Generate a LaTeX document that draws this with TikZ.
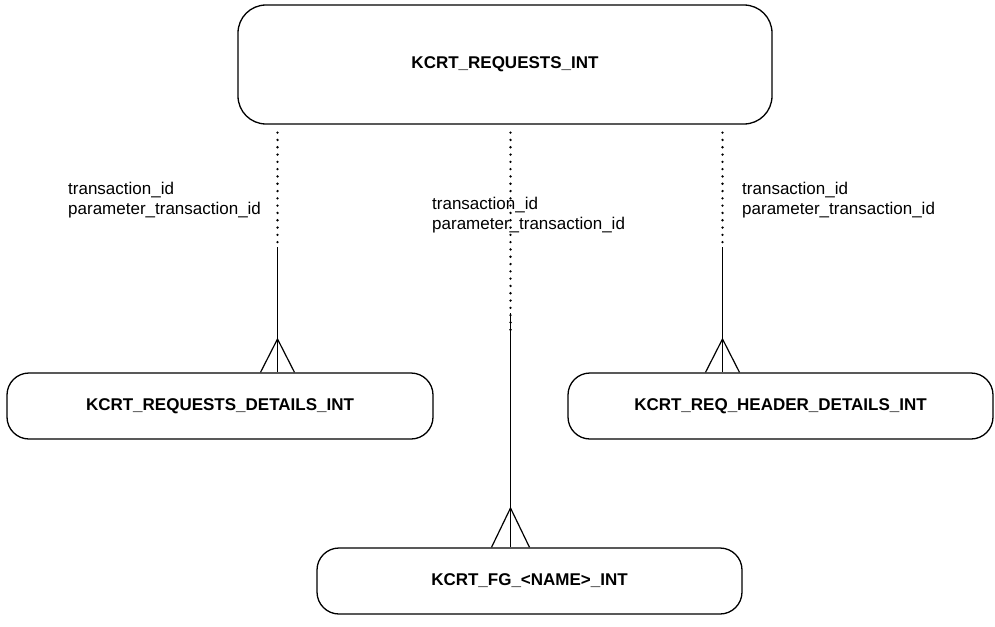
\documentclass[tikz,border=0pt]{standalone}
\usepackage{fontspec}
\setmainfont{Liberation Sans}
\usetikzlibrary{calc}
\tikzset{
  entity/.style={draw=black, line width=1.3pt, rounded corners=22pt, inner sep=0pt,
    font=\fontsize{17}{20}\selectfont\bfseries},
  lbl/.style={anchor=base west, inner sep=0pt, font=\fontsize{17}{20}\selectfont},
  dotline/.style={line width=2.6pt, line cap=round, dash pattern=on 0pt off 7.3pt},
  solidline/.style={line width=1.2pt},
}
\begin{document}
\begin{tikzpicture}[x=1pt,y=-1pt]
\useasboundingbox (0,0) rectangle (995,626);
% entities
\node[entity, rounded corners=28pt, minimum width=534pt, minimum height=119pt] (top) at (505,64.5) {KCRT\_REQUESTS\_INT};
\node[entity, minimum width=426pt, minimum height=66pt] (left) at (220,406) {KCRT\_REQUESTS\_DETAILS\_INT};
\node[entity, minimum width=425pt, minimum height=66pt] (right) at (780.5,406) {KCRT\_REQ\_HEADER\_DETAILS\_INT};
\node[entity, minimum width=425pt, minimum height=66pt] (bottom) at (529.5,581) {KCRT\_FG\_<NAME>\_INT};
% break points
\coordinate (lA) at (277.5,247);
\coordinate (mA) at (510.5,335);
\coordinate (mB) at (510.5,313);
\coordinate (rA) at (722.5,247);
% left relation
\draw[dotline] (top.south -| lA) ++(0,8) -- (lA);
\draw[solidline] (lA) -- (left.north -| lA);
\coordinate (lT) at (277.5,339);
\draw[solidline] ($(left.north -| lA)+(-17,0)$) -- (lT) -- ($(left.north -| lA)+(17,0)$);
% middle relation
\draw[dotline] (top.south -| mA) ++(0,8) -- (mA);
\draw[solidline] (mB) -- (bottom.north -| mB);
\coordinate (mT) at (510.5,508);
\draw[solidline] ($(bottom.north -| mB)+(-19,0)$) -- (mT) -- ($(bottom.north -| mB)+(19,0)$);
% right relation
\draw[dotline] (top.south -| rA) ++(0,8) -- (rA);
\draw[solidline] (rA) -- (right.north -| rA);
\coordinate (rT) at (722.5,339);
\draw[solidline] ($(right.north -| rA)+(-17,0)$) -- (rT) -- ($(right.north -| rA)+(17,0)$);
% labels
\node[lbl] (l1) at (68,194) {transaction\_id};
\node[lbl] (l2) at (68,214) {parameter\_transaction\_id};
\node[lbl] (m1) at (432,209) {transaction\_id};
\node[lbl] (m2) at (432,229) {parameter\_transaction\_id};
\node[lbl] (r1) at (742,194) {transaction\_id};
\node[lbl] (r2) at (742,214) {parameter\_transaction\_id};
\end{tikzpicture}
\end{document}
